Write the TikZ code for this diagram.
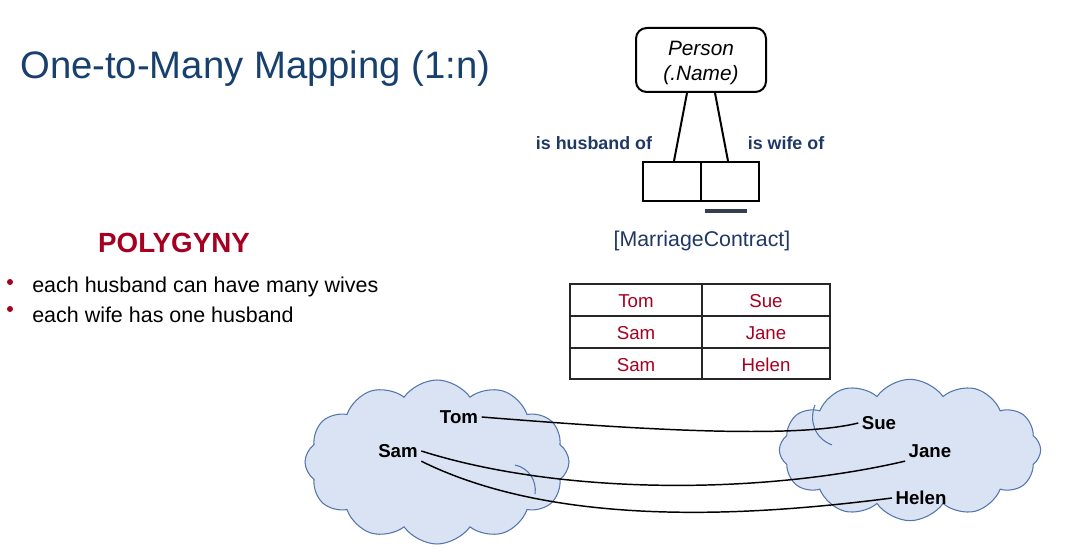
\documentclass[tikz,border=0pt]{standalone}
\usepackage{fontspec}
\setmainfont{Liberation Sans}
\usetikzlibrary{shapes.symbols}
\definecolor{titleblue}{RGB}{23,64,110}
\definecolor{labelblue}{RGB}{31,56,100}
\definecolor{polyred}{RGB}{165,0,33}
\definecolor{cloudfill}{RGB}{218,227,243}
\definecolor{cloudline}{RGB}{84,118,172}
\definecolor{bargray}{RGB}{51,63,80}
\begin{document}
\begin{tikzpicture}[x=0.75pt,y=-0.75pt,>=stealth,inner sep=0pt]
   \useasboundingbox (0,0) rectangle (1078,549);
   % タイトル
   \node [anchor=west,text=titleblue,font=\fontsize{28.7}{34}\selectfont] (title) at (20,69) {One-to-Many Mapping (1:n)};

   % 説明
   \node [text=polyred,font=\bfseries\fontsize{20.8}{25}\selectfont] (poly) at (174,243) {POLYGYNY};
   \node [circle,fill=polyred,minimum size=4.5pt] (dot1) at (10,282) {};
   \node [circle,fill=polyred,minimum size=4.5pt] (dot2) at (10,309) {};
   \node [anchor=west,font=\fontsize{16.1}{19}\selectfont] (rule1) at (32,287) {each husband can have many wives};
   \node [anchor=west,font=\fontsize{16.1}{19}\selectfont] (rule2) at (32,315) {each wife has one husband};

   % スキーマ
   \node [draw,line width=1.5pt,rounded corners=8pt,minimum width=97.5pt,minimum height=48pt] (person) at (701,60) {};
   \node [align=center,font=\itshape\fontsize{15.6}{18.75}\selectfont] (pname) at (701,63) {Person\\(.Name)};
   \node [draw,line width=1.5pt,minimum width=43.5pt,minimum height=29.25pt] (husband) at (672,181.5) {};
   \node [draw,line width=1.5pt,minimum width=43.5pt,minimum height=29.25pt] (wife) at (730,181.5) {};
   \draw[line width=1.5pt] ([xshift=-10.5pt]person.south) -- ([xshift=1.5pt]husband.north);
   \draw[line width=1.5pt] ([xshift=10.5pt]person.south) -- ([xshift=-1.5pt]wife.north);
   \node [text=labelblue,font=\bfseries\fontsize{13.4}{16}\selectfont] (hlabel) at (594,143) {is husband of};
   \node [text=labelblue,font=\bfseries\fontsize{13.4}{16}\selectfont] (wlabel) at (786,143) {is wife of};
   \draw[line width=2.6pt,bargray] (705,211) -- (747,211);
   \node [text=labelblue,font=\fontsize{16}{19}\selectfont] (fact) at (702,241) {[MarriageContract]};

   % 表
   \draw[line width=0.9pt,black!85] (570,284) rectangle (830,379);
   \draw[line width=0.9pt,black!85] (702,284) -- (702,379);
   \draw[line width=0.9pt,black!85] (570,316) -- (830,316);
   \draw[line width=0.9pt,black!85] (570,348) -- (830,348);
   \foreach \h/\w/\y in {Tom/Sue/301,Sam/Jane/333,Sam/Helen/365}{
      \node [text=polyred,font=\fontsize{14}{17}\selectfont] at (636,\y) {\h};
      \node [text=polyred,font=\fontsize{14}{17}\selectfont] at (766,\y) {\w};
   }

   % 雲
   \node [cloud,cloud puffs=12,cloud puff arc=110,aspect=1.6,draw=cloudline,fill=cloudfill,line width=0.8pt,
          minimum width=198pt,minimum height=123pt] (husbands) at (437,462) {};
   \node [cloud,cloud puffs=12,cloud puff arc=110,aspect=1.8,draw=cloudline,fill=cloudfill,line width=0.8pt,
          minimum width=196pt,minimum height=106pt] (wives) at (910,450) {};
   % 雲の内側の線
   \draw[cloudline,line width=0.8pt] (515,465) .. controls (529,468) and (537,481) .. (535,494);
   \draw[cloudline,line width=0.8pt] (832,445) .. controls (814,438) and (809,420) .. (815,405);

   \node [font=\bfseries\fontsize{14}{17}\selectfont,inner sep=2.5pt] (tom) at (459,417) {Tom};
   \node [font=\bfseries\fontsize{14}{17}\selectfont,inner sep=2.5pt] (sam) at (398,451) {Sam};
   \node [font=\bfseries\fontsize{14}{17}\selectfont,inner sep=2.5pt] (sue) at (879,423) {Sue};
   \node [font=\bfseries\fontsize{14}{17}\selectfont,inner sep=2.5pt] (jane) at (930,451) {Jane};
   \node [font=\bfseries\fontsize{14}{17}\selectfont,inner sep=2.5pt] (helen) at (921,498) {Helen};

   \draw[line width=1.1pt] (tom.east) .. controls (620,428) and (790,440) .. (sue.west);
   \draw[line width=1.1pt] (sam.east) .. controls (560,495) and (760,495) .. (jane.south west);
   \draw[line width=1.1pt] (sam.south east) .. controls (560,530) and (760,515) .. (helen.west);
\end{tikzpicture}
\end{document}
